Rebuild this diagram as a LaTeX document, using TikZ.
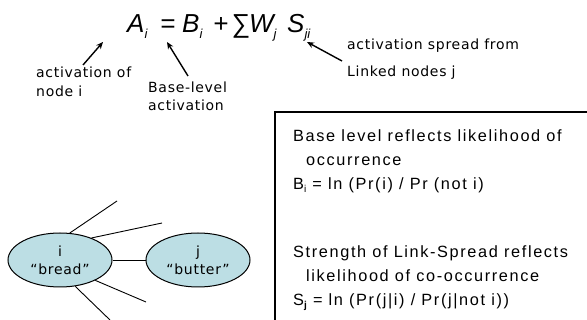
\documentclass[tikz,border=0pt]{standalone}
\usepackage{fontspec}
\setmainfont{Liberation Sans}
\newfontfamily\smallfont[LetterSpace=5]{DejaVu Sans}
\usetikzlibrary{arrows.meta,shapes.geometric}
\definecolor{nodefill}{RGB}{188,222,228}
\tikzset{
  lbl/.style={anchor=base west,inner sep=0pt,font=\smallfont\fontsize{14}{14}\selectfont},
  boxtxt/.style={anchor=base west,inner sep=0pt,font=\addfontfeature{LetterSpace=10}\fontsize{16.3}{16.3}\selectfont},
  eqtxt/.style={anchor=base west,inner sep=0pt,font=\itshape\fontsize{26}{26}\selectfont},
  concept/.style={ellipse,draw=black,line width=1pt,fill=nodefill,minimum width=104pt,minimum height=54pt,inner sep=0pt},
  ptr/.style={-{Stealth[length=7pt,width=6pt]},line width=1.4pt},
  link/.style={line width=0.9pt}
}
\newcommand{\sbs}[1]{\raisebox{-6pt}{\fontsize{13}{13}\selectfont #1}}
\begin{document}
\begin{tikzpicture}[x=1pt,y=-1pt]
\useasboundingbox (0,0) rectangle (587,320);
\clip (0,0) rectangle (587,320);
% equation
\node[eqtxt] (eqA) at (127,33) {A\sbs{i}};
\node[eqtxt] (eqEq) at (160,33) {=};
\node[eqtxt] (eqB) at (182,33) {B\sbs{i}};
\node[eqtxt] (eqPlus) at (213,33) {+};
\node[eqtxt] (eqSum) at (231,33) {∑};
\node[eqtxt] (eqW) at (249,33) {W\sbs{j}};
\node[eqtxt] (eqS) at (287,33) {S\sbs{ji}};
\coordinate (tipA) at (103,42);
\coordinate (tipB) at (167,42);
\coordinate (tipS) at (307,42);
% labels
\node[lbl] (l1) at (36,78) {activation of};
\node[lbl] (l2) at (36,97) {node i};
\node[lbl] (l3) at (148,93) {Base-level};
\node[lbl] (l4) at (148,111) {activation};
\node[lbl] (l5) at (347,50) {activation spread from};
\node[lbl] (l6) at (347,77) {Linked nodes j};
\coordinate (srcA) at (83,65);
\coordinate (srcB) at (188,76);
\coordinate (srcS) at (342,61);
\draw[ptr] (srcA) -- (tipA);
\draw[ptr] (srcB) -- (tipB);
\draw[ptr] (srcS) -- (tipS);
% box
\draw[line width=1.3pt] (275,112) rectangle (600,330);
\node[boxtxt] (b1) at (293,142) {Base level reflects likelihood of};
\node[boxtxt] (b2) at (306,166) {occurrence};
\node[boxtxt] (b3) at (293,190) {B\raisebox{-3pt}{\fontsize{10}{10}\selectfont i} = ln (Pr(i) / Pr (not i)};
\node[boxtxt] (b4) at (293,258) {Strength of Link-Spread reflects};
\node[boxtxt] (b5) at (306,282) {likelihood of co-occurrence};
\node[boxtxt] (b6) at (293,306) {S\raisebox{-3pt}{\fontsize{10}{10}\selectfont\bfseries j} = ln (Pr(j|i) / Pr(j|not i))};
% network
\node[concept] (ni) at (60,260) {};
\node[concept] (nj) at (198,260) {};
\node[lbl,anchor=base] at (60,257) {i};
\node[lbl,anchor=base] at (60,275) {“bread”};
\node[lbl,anchor=base] at (198,257) {j};
\node[lbl,anchor=base] at (198,275) {“butter”};
\draw[link] (ni) -- (nj);
\coordinate (e1) at (117,201);
\coordinate (e2) at (162,223);
\coordinate (e4) at (146,302);
\coordinate (e5) at (110,320);
\draw[link] (ni.70) -- (e1);
\draw[link] (ni.35) -- (e2);
\draw[link] (ni.-30) -- (e4);
\draw[link] (ni.-60) -- (e5);
\end{tikzpicture}
\end{document}
